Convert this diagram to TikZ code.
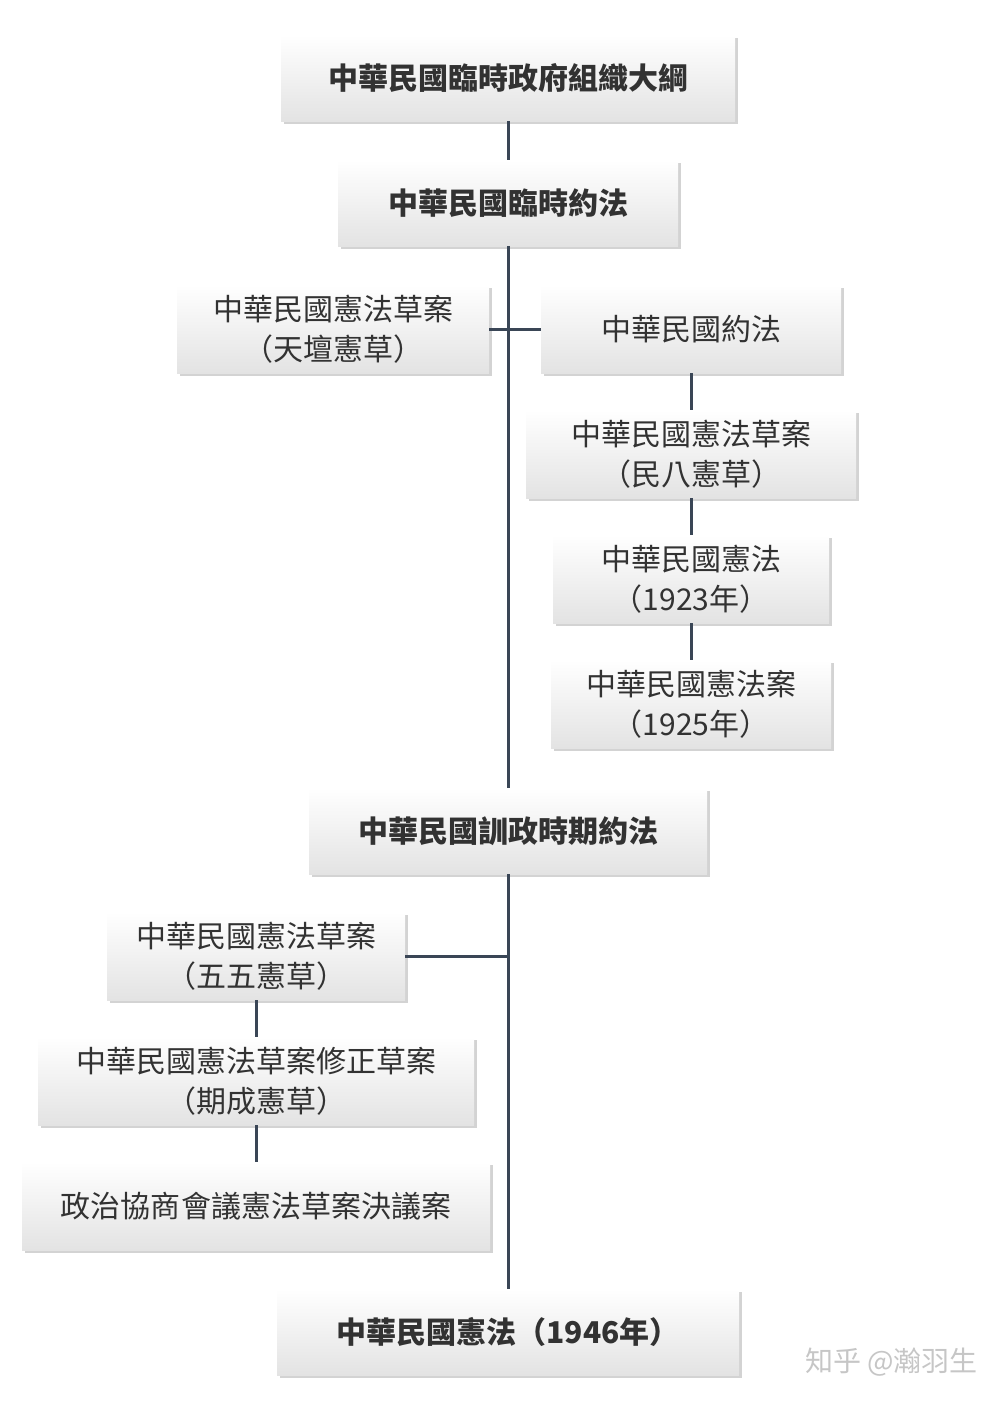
\documentclass[tikz,border=0pt]{standalone}
\usepackage{fontspec}
\newfontfamily\cjk{Noto Sans CJK TC}
\usetikzlibrary{shadows}
\definecolor{lawline}{RGB}{58,70,86}
\definecolor{lawtext}{RGB}{50,50,50}
\tikzset{
  law/.style={draw=none,top color=white,bottom color=gray!22,
    drop shadow={shadow xshift=1.5pt,shadow yshift=-1.5pt,opacity=0.35},
    text=lawtext,align=center,font=\cjk\fontsize{15}{20}\selectfont,inner sep=0pt},
  mainlaw/.style={law,font=\cjk\bfseries\fontsize{15}{20}\selectfont},
  link/.style={lawline,line width=1.5pt}
}
\begin{document}
\begin{tikzpicture}[x=0.5pt,y=-0.5pt]
  \useasboundingbox (0,0) rectangle (1007,1403);
  % main line
  \node[mainlaw,minimum width=227pt,minimum height=43pt] (dagang) at (508,78) {中華民國臨時政府組織大綱};
  \node[mainlaw,minimum width=170pt,minimum height=43pt] (yuefa) at (508,203) {中華民國臨時約法};
  \node[mainlaw,minimum width=199pt,minimum height=43pt] (xunzheng) at (508,831) {中華民國訓政時期約法};
  \node[mainlaw,minimum width=231pt,minimum height=43pt] (xianfa) at (508,1332) {中華民國憲法（1946年）};
  % Beiyang drafts
  \node[law,minimum width=156pt,minimum height=44pt] (tiantan) at (333,329) {中華民國憲法草案\\（天壇憲草）};
  \node[law,minimum width=150pt,minimum height=44pt] (minguo) at (691,329) {中華民國約法};
  \node[law,minimum width=165pt,minimum height=44pt] (minba) at (691,454) {中華民國憲法草案\\（民八憲草）};
  \node[law,minimum width=138pt,minimum height=44pt] (caoan23) at (691,579) {中華民國憲法\\（1923年）};
  \node[law,minimum width=140pt,minimum height=44pt] (caoan25) at (691,704) {中華民國憲法案\\（1925年）};
  % Nanjing drafts
  \node[law,minimum width=149pt,minimum height=44pt] (wuwu) at (256,956) {中華民國憲法草案\\（五五憲草）};
  \node[law,minimum width=218pt,minimum height=44pt] (qicheng) at (256,1081) {中華民國憲法草案修正草案\\（期成憲草）};
  \node[law,minimum width=234pt,minimum height=44pt] (zhengxie) at (256,1206) {政治協商會議憲法草案決議案};
  % connectors
  \coordinate (j1) at (508,329);
  \coordinate (j2) at (508,956);
  \draw[link] (dagang) -- (yuefa);
  \draw[link] (yuefa) -- (xunzheng);
  \draw[link] (xunzheng) -- (xianfa);
  \draw[link] (tiantan) -- (minguo);
  \draw[link] (minguo) -- (minba);
  \draw[link] (minba) -- (caoan23);
  \draw[link] (caoan23) -- (caoan25);
  \draw[link] (wuwu) -- (j2);
  \draw[link] (wuwu) -- (qicheng);
  \draw[link] (qicheng) -- (zhengxie);
  \node[text=gray!45,font=\cjk\fontsize{14}{16}\selectfont,anchor=east] (mark) at (985,1362) {知乎 @瀚羽生};
\end{tikzpicture}
\end{document}
